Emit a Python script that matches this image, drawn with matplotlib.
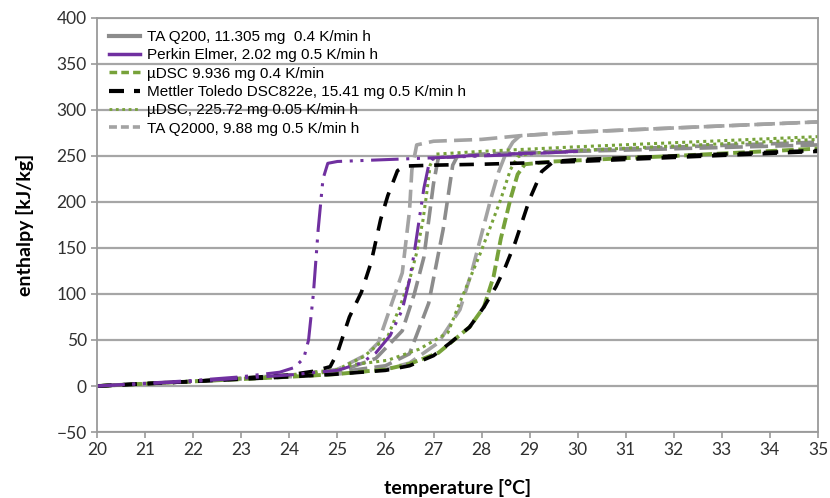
import matplotlib.pyplot as plt
from matplotlib.lines import Line2D

# ---- data (temperature in degC, enthalpy in kJ/kg) ----
# Perkin Elmer, 2.02 mg 0.5 K/min
pe1_t = [20, 21, 22, 23, 23.8, 24.1, 24.3, 24.4, 24.5, 24.6, 24.7, 24.8, 25.0, 26.0, 27.0, 28.5, 30]
pe1_h = [0, 3, 6, 10, 15, 20, 30, 50, 100, 170, 225, 242, 244, 246, 248, 251, 255]
pe2_t = [20, 22, 24, 25, 25.5, 25.8, 26.1, 26.35, 26.5, 26.6, 26.7, 26.8, 26.9, 27.0, 28, 30]
pe2_h = [0, 5, 12, 17, 25, 36, 55, 83, 115, 145, 180, 215, 240, 248, 251, 255]

# Mettler Toledo DSC822e, 15.41 mg 0.5 K/min
mt1_t = [20, 22, 24, 24.5, 24.85, 25.0, 25.25, 25.5, 25.7, 25.9, 26.05, 26.25, 26.4, 27, 28, 30, 35]
mt1_h = [0, 5, 12, 16, 21, 36, 75, 102, 134, 181, 207, 234, 239, 240, 241, 244, 255]
mt2_t = [20, 22, 24, 25, 26, 26.5, 27, 27.35, 27.75, 28.05, 28.3, 28.5, 28.7, 28.86, 29.0, 29.25, 29.5, 30, 32, 35]
mt2_h = [0, 5, 10, 13, 17, 22, 33, 47, 64, 86, 108, 130, 156, 181, 203, 233, 244, 246, 250, 256]

# uDSC 9.936 mg 0.4 K/min
ud1_t = [20, 22, 24, 25, 26, 26.5, 27.1, 27.75, 28.05, 28.25, 28.4, 28.6, 28.75, 28.9, 29.5, 32, 35]
ud1_h = [0, 5, 10, 13, 18, 24, 36, 64, 86, 119, 160, 203, 230, 241, 244, 250, 258]

# uDSC, 225.72 mg 0.05 K/min
us1_t = [20, 22, 24, 25, 25.55, 26.05, 26.3, 26.5, 26.65, 26.78, 26.86, 26.93, 27.05, 28, 30, 35]
us1_h = [0, 5, 12, 18, 32, 54, 86, 115, 145, 180, 210, 240, 252, 255, 260, 271]
us2_t = [20, 22, 24, 25, 25.3, 26.05, 26.7, 27.1, 27.3, 27.55, 27.95, 28.2, 28.4, 28.6, 28.75, 29, 30, 35]
us2_h = [0, 5, 11, 16, 23, 28, 40, 52, 58, 91, 141, 175, 203, 235, 249, 253, 256, 268]

# TA Q200, 11.305 mg 0.4 K/min
tq1_t = [20, 22, 24, 25, 25.8, 26.35, 26.6, 26.8, 26.9, 27.0, 27.1, 28, 30, 35]
tq1_h = [0, 5, 11, 15, 30, 60, 100, 140, 180, 220, 248, 251, 255, 262]
tq2_t = [20, 22, 24, 25, 26, 26.5, 26.9, 27.05, 27.2, 27.3, 27.4, 27.5, 28, 30, 35]
tq2_h = [0, 5, 11, 15, 22, 35, 90, 130, 170, 205, 240, 250, 252, 256, 265]

# TA Q2000, 9.88 mg 0.5 K/min
tz1_t = [20, 22, 24, 25, 25.6, 25.85, 26.1, 26.35, 26.5, 26.55, 26.65, 27, 28, 28.8, 30, 35]
tz1_h = [0, 5, 12, 18, 34, 47, 85, 123, 190, 235, 262, 266, 268, 272, 276, 287]
tz2_t = [20, 22, 24, 25, 26, 26.5, 27.1, 27.55, 27.8, 28.0, 28.2, 28.35, 28.5, 28.65, 28.8, 30, 35]
tz2_h = [0, 5, 10, 13, 18, 25, 47, 83, 125, 165, 205, 232, 252, 265, 272, 276, 287]

labels = ["TA Q200, 11.305 mg  0.4 K/min h",
          "Perkin Elmer, 2.02 mg 0.5 K/min h",
          "\u00b5DSC 9.936 mg 0.4 K/min",
          "Mettler Toledo DSC822e, 15.41 mg 0.5 K/min h",
          "\u00b5DSC, 225.72 mg 0.05 K/min h",
          "TA Q2000, 9.88 mg 0.5 K/min h"]

gray = "#8c8c8c"
gray2 = "#a3a3a3"
purple = "#7030a0"
green = "#77a23a"

fig, ax = plt.subplots(figsize=(8.3, 4.98), dpi=100)
fig.subplots_adjust(left=0.117, right=0.9855, top=0.964, bottom=0.1325)

# gridlines
ax.set_axisbelow(True)
ax.yaxis.grid(True, color="#a6a6a6", linewidth=1.6)

# curves
for t, h in [(tq1_t, tq1_h), (tq2_t, tq2_h)]:
    ax.plot(t, h, color=gray, lw=2.6, dashes=(5, 2))
for t, h in [(tz1_t, tz1_h), (tz2_t, tz2_h)]:
    ax.plot(t, h, color=gray2, lw=2.6, dashes=(5, 2))
for t, h in [(us1_t, us1_h), (us2_t, us2_h)]:
    ax.plot(t, h, color=green, lw=2.2, dashes=(1, 1.3))
ax.plot(ud1_t, ud1_h, color=green, lw=2.8, dashes=(3, 1.2))
for t, h in [(mt1_t, mt1_h), (mt2_t, mt2_h)]:
    ax.plot(t, h, color="black", lw=2.6, dashes=(4, 3))
for t, h in [(pe1_t, pe1_h), (pe2_t, pe2_h)]:
    ax.plot(t, h, color=purple, lw=2.2, dashes=(9, 2.5, 1, 2.5, 1, 2.5))

ax.set_xlim(20, 35)
ax.set_ylim(-50, 400)
ax.set_xticks(range(20, 36))
ax.set_yticks(range(-50, 401, 50))

for s in ax.spines.values():
    s.set_color("#9a9a9a")
    s.set_linewidth(1.3)
ax.tick_params(direction="out", length=4, width=1.2, color="#9a9a9a",
               labelsize=12.5, labelcolor="#303030")
for lab in ax.get_xticklabels() + ax.get_yticklabels():
    lab.set_family("Lato")

ax.set_xlabel("temperature [\u00b0C]", fontsize=14, fontweight="bold",
              family="Lato", labelpad=15)
ax.set_ylabel("enthalpy [kJ/kg]", fontsize=14, fontweight="bold",
              family="Lato", labelpad=16)

# legend with the series styles shown in the reference key
handles = [Line2D([], [], color=gray, lw=3),
           Line2D([], [], color=purple, lw=2.5),
           Line2D([], [], color=green, lw=2.5, dashes=(2.2, 1.2)),
           Line2D([], [], color="black", lw=3, dashes=(3.6, 2.4)),
           Line2D([], [], color=green, lw=2, dashes=(1, 1.3)),
           Line2D([], [], color=gray2, lw=2.6, dashes=(2.2, 1.1))]
leg = ax.legend(handles, labels, loc="upper left", bbox_to_anchor=(0.0, 1.0),
                frameon=False, labelspacing=0.28,
                handlelength=2.0, handletextpad=0.45, borderaxespad=0.4,
                prop={"family": "Liberation Sans", "size": 11})

fig.savefig("out.png", dpi=100)
